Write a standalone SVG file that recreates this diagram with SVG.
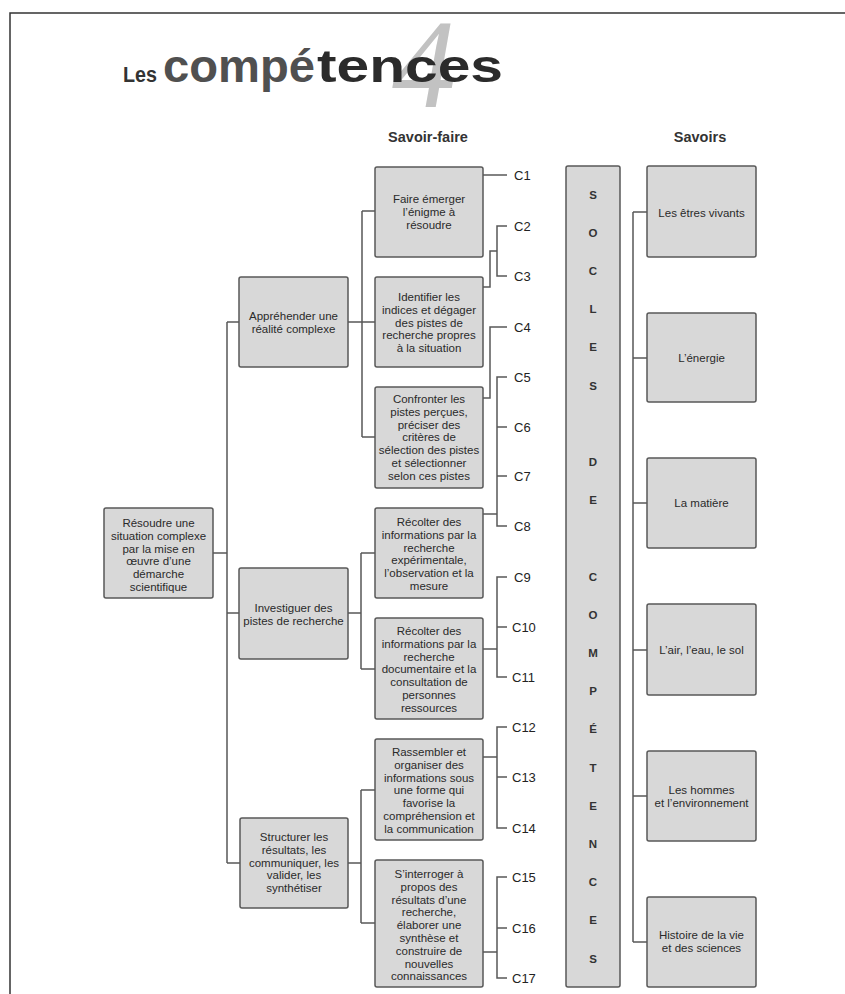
<svg xmlns="http://www.w3.org/2000/svg" width="845" height="994" viewBox="0 0 845 994">
<style>
.bx{fill:#d8d8d8;stroke:#585858;stroke-width:1.5}
.t{font-family:"Liberation Sans",Arial,sans-serif;font-size:11.5px;fill:#2a2a2a;text-anchor:middle}
.c{font-family:"Liberation Sans",Arial,sans-serif;font-size:13px;fill:#222}
.h{font-family:"Liberation Sans",Arial,sans-serif;font-size:14.5px;font-weight:bold;fill:#333;text-anchor:middle}
.l{font-family:"Liberation Sans",Arial,sans-serif;font-size:11.5px;font-weight:bold;fill:#333;text-anchor:middle}
.cn{fill:none;stroke:#585858;stroke-width:1.5}
.ar{stroke:#333;stroke-width:1.5;marker-end:url(#ah)}
</style>
<defs>
<marker id="ah" viewBox="0 0 10 10" refX="10" refY="5" markerWidth="8" markerHeight="6" markerUnits="userSpaceOnUse" orient="auto"><path d="M0,0 L10,5 L0,10 z" fill="#333"/></marker>
</defs>
<rect width="845" height="994" fill="#fff"/>
<path d="M10,994 V13 H845" fill="none" stroke="#333" stroke-width="1.5"/>
<g id="title">
<text x="424" y="107" font-family="Liberation Serif,serif" font-style="italic" font-size="128" fill="#c2c2c2" text-anchor="middle">4</text>
<text x="123" y="82" font-family="Liberation Sans,Arial,sans-serif" font-weight="bold" font-size="22" fill="#333" textLength="34" lengthAdjust="spacingAndGlyphs">Les</text>
<text x="163" y="82" font-family="Liberation Sans,Arial,sans-serif" font-weight="bold" font-size="46" fill="#505050" textLength="152" lengthAdjust="spacingAndGlyphs">compé</text>
<text x="317" y="82" font-family="Liberation Sans,Arial,sans-serif" font-weight="bold" font-size="46" fill="#2b2b2b" textLength="186" lengthAdjust="spacingAndGlyphs">tences</text>
</g>
<text class="h" x="428" y="142">Savoir-faire</text>
<text class="h" x="700" y="142">Savoirs</text>

<g id="connectors">
<path class="cn" d="M213,553 H227 M227,322 V863 M227,322 H239 M227,613 H240 M227,863 H240"/>
<path class="cn" d="M348,322 H375 M362,211 V437 M362,211 H375 M362,437 H375"/>
<path class="cn" d="M348,613 H361 M361,553 V669 M361,553 H375 M361,669 H375"/>
<path class="cn" d="M348,863 H361 M361,790 V923 M361,790 H375 M361,923 H375"/>
<path class="cn" d="M483,175 H507"/>
<path class="cn" d="M483,287 H490 V251 H497 M507,226 H497 V276 H507"/>
<path class="cn" d="M483,398 H490 V327 H507"/>
<path class="cn" d="M507,377 H497 V526 H507 M497,427 H507 M497,476 H507 M483,514 H497"/>
<path class="cn" d="M507,577 H497 V677 H507 M497,627 H507 M483,649 H497"/>
<path class="cn" d="M507,727 H497 V828 H507 M497,777 H507 M483,757 H497"/>
<path class="cn" d="M507,877 H497 V978 H507 M497,928 H507 M483,952 H497"/>
<path class="cn" d="M633,212 V942 M633,212 H647 M633,358 H647 M633,503 H647 M633,650 H647 M633,796 H647 M633,942 H647"/>
<line class="ar" x1="567" y1="213" x2="581" y2="213"/><line class="ar" x1="619" y1="213" x2="605" y2="213"/>
<line class="ar" x1="567" y1="317" x2="581" y2="317"/><line class="ar" x1="619" y1="317" x2="605" y2="317"/>
<line class="ar" x1="567" y1="421" x2="581" y2="421"/><line class="ar" x1="619" y1="421" x2="605" y2="421"/>
<line class="ar" x1="567" y1="525" x2="581" y2="525"/><line class="ar" x1="619" y1="525" x2="605" y2="525"/>
<line class="ar" x1="567" y1="629" x2="581" y2="629"/><line class="ar" x1="619" y1="629" x2="605" y2="629"/>
<line class="ar" x1="567" y1="733" x2="581" y2="733"/><line class="ar" x1="619" y1="733" x2="605" y2="733"/>
<line class="ar" x1="567" y1="837" x2="581" y2="837"/><line class="ar" x1="619" y1="837" x2="605" y2="837"/>
<line class="ar" x1="567" y1="940" x2="581" y2="940"/><line class="ar" x1="619" y1="940" x2="605" y2="940"/>
</g>

<g id="n-resoudre"><rect class="bx" x="104" y="508" width="109" height="90" rx="2"/>
<text class="t" y="527"><tspan x="158.5">Résoudre une</tspan><tspan x="158.5" dy="12.8">situation complexe</tspan><tspan x="158.5" dy="12.8">par la mise en</tspan><tspan x="158.5" dy="12.8">œuvre d’une</tspan><tspan x="158.5" dy="12.8">démarche</tspan><tspan x="158.5" dy="12.8">scientifique</tspan></text></g>

<g id="n-apprehender"><rect class="bx" x="239" y="277" width="109" height="90" rx="2"/>
<text class="t" y="320"><tspan x="293.5">Appréhender une</tspan><tspan x="293.5" dy="12.8">réalité complexe</tspan></text></g>

<g id="n-investiguer"><rect class="bx" x="239" y="568" width="109" height="91" rx="2"/>
<text class="t" y="612"><tspan x="293.5">Investiguer des</tspan><tspan x="293.5" dy="12.8">pistes de recherche</tspan></text></g>

<g id="n-structurer"><rect class="bx" x="240" y="818" width="108" height="90" rx="2"/>
<text class="t" y="841"><tspan x="294">Structurer les</tspan><tspan x="294" dy="12.8">résultats, les</tspan><tspan x="294" dy="12.8">communiquer, les</tspan><tspan x="294" dy="12.8">valider, les</tspan><tspan x="294" dy="12.8">synthétiser</tspan></text></g>

<g id="n-faire"><rect class="bx" x="375" y="167" width="108" height="90" rx="2"/>
<text class="t" y="203"><tspan x="429">Faire émerger</tspan><tspan x="429" dy="12.8">l’énigme à</tspan><tspan x="429" dy="12.8">résoudre</tspan></text></g>

<g id="n-identifier"><rect class="bx" x="375" y="277" width="108" height="90" rx="2"/>
<text class="t" y="301"><tspan x="429">Identifier les</tspan><tspan x="429" dy="12.8">indices et dégager</tspan><tspan x="429" dy="12.8">des pistes de</tspan><tspan x="429" dy="12.8">recherche propres</tspan><tspan x="429" dy="12.8">à la situation</tspan></text></g>

<g id="n-confronter"><rect class="bx" x="375" y="387" width="108" height="101" rx="2"/>
<text class="t" y="403"><tspan x="429">Confronter les</tspan><tspan x="429" dy="12.8">pistes perçues,</tspan><tspan x="429" dy="12.8">préciser des</tspan><tspan x="429" dy="12.8">critères de</tspan><tspan x="429" dy="12.8">sélection des pistes</tspan><tspan x="429" dy="12.8">et sélectionner</tspan><tspan x="429" dy="12.8">selon ces pistes</tspan></text></g>

<g id="n-recolter1"><rect class="bx" x="375" y="508" width="108" height="90" rx="2"/>
<text class="t" y="526"><tspan x="429">Récolter des</tspan><tspan x="429" dy="12.8">informations par la</tspan><tspan x="429" dy="12.8">recherche</tspan><tspan x="429" dy="12.8">expérimentale,</tspan><tspan x="429" dy="12.8">l’observation et la</tspan><tspan x="429" dy="12.8">mesure</tspan></text></g>

<g id="n-recolter2"><rect class="bx" x="375" y="618" width="108" height="101" rx="2"/>
<text class="t" y="635"><tspan x="429">Récolter des</tspan><tspan x="429" dy="12.8">informations par la</tspan><tspan x="429" dy="12.8">recherche</tspan><tspan x="429" dy="12.8">documentaire et la</tspan><tspan x="429" dy="12.8">consultation de</tspan><tspan x="429" dy="12.8">personnes</tspan><tspan x="429" dy="12.8">ressources</tspan></text></g>

<g id="n-rassembler"><rect class="bx" x="375" y="739" width="108" height="101" rx="2"/>
<text class="t" y="756"><tspan x="429">Rassembler et</tspan><tspan x="429" dy="12.8">organiser des</tspan><tspan x="429" dy="12.8">informations sous</tspan><tspan x="429" dy="12.8">une forme qui</tspan><tspan x="429" dy="12.8">favorise la</tspan><tspan x="429" dy="12.8">compréhension et</tspan><tspan x="429" dy="12.8">la communication</tspan></text></g>

<g id="n-interroger"><rect class="bx" x="375" y="860" width="108" height="127" rx="2"/>
<text class="t" y="878"><tspan x="429">S’interroger à</tspan><tspan x="429" dy="12.8">propos des</tspan><tspan x="429" dy="12.8">résultats d’une</tspan><tspan x="429" dy="12.8">recherche,</tspan><tspan x="429" dy="12.8">élaborer une</tspan><tspan x="429" dy="12.8">synthèse et</tspan><tspan x="429" dy="12.8">construire de</tspan><tspan x="429" dy="12.8">nouvelles</tspan><tspan x="429" dy="12.8">connaissances</tspan></text></g>

<g id="c-labels">
<text class="c" x="514" y="179.5">C1</text>
<text class="c" x="514" y="230.5">C2</text>
<text class="c" x="514" y="280.5">C3</text>
<text class="c" x="514" y="331.5">C4</text>
<text class="c" x="514" y="381.5">C5</text>
<text class="c" x="514" y="431.5">C6</text>
<text class="c" x="514" y="480.5">C7</text>
<text class="c" x="514" y="530.5">C8</text>
<text class="c" x="514" y="581.5">C9</text>
<text class="c" x="512" y="631.5">C10</text>
<text class="c" x="512" y="681.5">C11</text>
<text class="c" x="512" y="731.5">C12</text>
<text class="c" x="512" y="781.5">C13</text>
<text class="c" x="512" y="832.5">C14</text>
<text class="c" x="512" y="881.5">C15</text>
<text class="c" x="512" y="932.5">C16</text>
<text class="c" x="512" y="982.5">C17</text>
</g>

<g id="n-socles"><rect class="bx" x="566" y="166" width="54" height="821" rx="2"/>
<text class="l" x="593" y="198.5">S</text>
<text class="l" x="593" y="236.7">O</text>
<text class="l" x="593" y="274.9">C</text>
<text class="l" x="593" y="313.1">L</text>
<text class="l" x="593" y="351.3">E</text>
<text class="l" x="593" y="389.5">S</text>
<text class="l" x="593" y="465.9">D</text>
<text class="l" x="593" y="504.1">E</text>
<text class="l" x="593" y="580.5">C</text>
<text class="l" x="593" y="618.7">O</text>
<text class="l" x="593" y="656.9">M</text>
<text class="l" x="593" y="695.1">P</text>
<text class="l" x="593" y="733.3">É</text>
<text class="l" x="593" y="771.5">T</text>
<text class="l" x="593" y="809.7">E</text>
<text class="l" x="593" y="847.9">N</text>
<text class="l" x="593" y="886.1">C</text>
<text class="l" x="593" y="924.3">E</text>
<text class="l" x="593" y="962.5">S</text>
</g>

<g id="s-vivants"><rect class="bx" x="647" y="166" width="109" height="91" rx="2"/><text class="t" x="701.5" y="217">Les êtres vivants</text></g>
<g id="s-energie"><rect class="bx" x="647" y="313" width="109" height="89" rx="2"/><text class="t" x="701.5" y="362">L’énergie</text></g>
<g id="s-matiere"><rect class="bx" x="647" y="458" width="109" height="90" rx="2"/><text class="t" x="701.5" y="507">La matière</text></g>
<g id="s-air"><rect class="bx" x="647" y="604" width="109" height="91" rx="2"/><text class="t" x="701.5" y="654">L’air, l’eau, le sol</text></g>
<g id="s-hommes"><rect class="bx" x="647" y="751" width="109" height="90" rx="2"/><text class="t" y="794"><tspan x="701.5">Les hommes</tspan><tspan x="701.5" dy="13">et l’environnement</tspan></text></g>
<g id="s-histoire"><rect class="bx" x="647" y="897" width="109" height="90" rx="2"/><text class="t" y="939"><tspan x="701.5">Histoire de la vie</tspan><tspan x="701.5" dy="13">et des sciences</tspan></text></g>
</svg>
